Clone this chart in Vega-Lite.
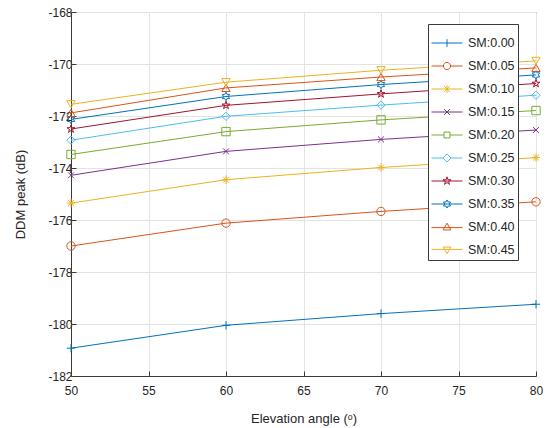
{
  "$schema": "https://vega.github.io/schema/vega-lite/v6.json",
  "width": 465,
  "height": 364,
  "autosize": {"type": "none"},
  "padding": {"left": 71, "top": 12, "right": 18, "bottom": 52},
  "background": "white",
  "config": {
    "font": "Liberation Sans",
    "view": {"stroke": "#3a3a3a", "strokeWidth": 1},
    "axis": {
      "labelFont": "Liberation Sans",
      "titleFont": "Liberation Sans",
      "labelFontSize": 12,
      "titleFontSize": 13,
      "titleFontWeight": "normal",
      "labelColor": "#262626",
      "titleColor": "#262626",
      "domainColor": "#3a3a3a",
      "tickColor": "#3a3a3a",
      "gridColor": "#e3e3e3",
      "gridWidth": 1,
      "tickSize": -5
    }
  },
  "data": {
    "values": [
      {"angle": 50, "dB": -180.93, "series": "SM:0.00", "marker": "+"},
      {"angle": 60, "dB": -180.05, "series": "SM:0.00", "marker": "+"},
      {"angle": 70, "dB": -179.6, "series": "SM:0.00", "marker": "+"},
      {"angle": 80, "dB": -179.24, "series": "SM:0.00", "marker": "+"},
      {"angle": 50, "dB": -177.0, "series": "SM:0.05", "marker": "o"},
      {"angle": 60, "dB": -176.12, "series": "SM:0.05", "marker": "o"},
      {"angle": 70, "dB": -175.67, "series": "SM:0.05", "marker": "o"},
      {"angle": 80, "dB": -175.3, "series": "SM:0.05", "marker": "o"},
      {"angle": 50, "dB": -175.35, "series": "SM:0.10", "marker": "*"},
      {"angle": 60, "dB": -174.45, "series": "SM:0.10", "marker": "*"},
      {"angle": 70, "dB": -173.98, "series": "SM:0.10", "marker": "*"},
      {"angle": 80, "dB": -173.6, "series": "SM:0.10", "marker": "*"},
      {"angle": 50, "dB": -174.28, "series": "SM:0.15", "marker": "x"},
      {"angle": 60, "dB": -173.36, "series": "SM:0.15", "marker": "x"},
      {"angle": 70, "dB": -172.9, "series": "SM:0.15", "marker": "x"},
      {"angle": 80, "dB": -172.54, "series": "SM:0.15", "marker": "x"},
      {"angle": 50, "dB": -173.48, "series": "SM:0.20", "marker": "s"},
      {"angle": 60, "dB": -172.6, "series": "SM:0.20", "marker": "s"},
      {"angle": 70, "dB": -172.15, "series": "SM:0.20", "marker": "s"},
      {"angle": 80, "dB": -171.79, "series": "SM:0.20", "marker": "s"},
      {"angle": 50, "dB": -172.93, "series": "SM:0.25", "marker": "d"},
      {"angle": 60, "dB": -172.01, "series": "SM:0.25", "marker": "d"},
      {"angle": 70, "dB": -171.58, "series": "SM:0.25", "marker": "d"},
      {"angle": 80, "dB": -171.2, "series": "SM:0.25", "marker": "d"},
      {"angle": 50, "dB": -172.5, "series": "SM:0.30", "marker": "p"},
      {"angle": 60, "dB": -171.59, "series": "SM:0.30", "marker": "p"},
      {"angle": 70, "dB": -171.15, "series": "SM:0.30", "marker": "p"},
      {"angle": 80, "dB": -170.75, "series": "SM:0.30", "marker": "p"},
      {"angle": 50, "dB": -172.13, "series": "SM:0.35", "marker": "h"},
      {"angle": 60, "dB": -171.25, "series": "SM:0.35", "marker": "h"},
      {"angle": 70, "dB": -170.79, "series": "SM:0.35", "marker": "h"},
      {"angle": 80, "dB": -170.42, "series": "SM:0.35", "marker": "h"},
      {"angle": 50, "dB": -171.88, "series": "SM:0.40", "marker": "^"},
      {"angle": 60, "dB": -170.92, "series": "SM:0.40", "marker": "^"},
      {"angle": 70, "dB": -170.5, "series": "SM:0.40", "marker": "^"},
      {"angle": 80, "dB": -170.15, "series": "SM:0.40", "marker": "^"},
      {"angle": 50, "dB": -171.55, "series": "SM:0.45", "marker": "v"},
      {"angle": 60, "dB": -170.7, "series": "SM:0.45", "marker": "v"},
      {"angle": 70, "dB": -170.24, "series": "SM:0.45", "marker": "v"},
      {"angle": 80, "dB": -169.88, "series": "SM:0.45", "marker": "v"}
    ]
  },
  "encoding": {
    "x": {
      "field": "angle",
      "type": "quantitative",
      "scale": {"domain": [50, 80], "nice": false, "zero": false},
      "axis": {
        "values": [50, 55, 60, 65, 70, 75, 80],
        "title": "Elevation angle (ᵒ)",
        "labelPadding": 14,
        "titlePadding": 16,
        "labelFlush": false
      }
    },
    "y": {
      "field": "dB",
      "type": "quantitative",
      "scale": {"domain": [-182, -168], "nice": false, "zero": false},
      "axis": {
        "values": [-182, -180, -178, -176, -174, -172, -170, -168],
        "title": "DDM peak (dB)",
        "labelExpr": "'-' + abs(datum.value)",
        "labelPadding": 4,
        "titlePadding": 20
      }
    },
    "color": {
      "field": "series",
      "type": "nominal",
      "scale": {
        "domain": ["SM:0.00", "SM:0.05", "SM:0.10", "SM:0.15", "SM:0.20", "SM:0.25", "SM:0.30", "SM:0.35", "SM:0.40", "SM:0.45"],
        "range": ["#0072BD", "#D95319", "#EDB120", "#7E2F8E", "#77AC30", "#4DBEEE", "#A2142F", "#0072BD", "#D95319", "#EDB120"]
      },
      "legend": {
        "title": null,
        "orient": "none",
        "legendX": 357,
        "legendY": 12,
        "padding": 3,
        "strokeColor": "#3a3a3a",
        "fillColor": "white",
        "labelFont": "Liberation Sans",
        "labelFontSize": 12.5,
        "labelFontWeight": "normal",
        "labelColor": "#262626",
        "symbolType": "stroke",
        "symbolSize": 100,
        "symbolOffset": 0,
        "labelOffset": 5,
        "rowPadding": 0,
        "symbolStrokeWidth": 1,
        "encode": {
          "symbols": {
            "update": {
              "size": {"value": 961},
              "fill": {"value": "transparent"},
              "shape": {"signal": "{'SM:0.00':'M-1,0H1M0,-0.25V0.25','SM:0.05':'M-1,0H-0.23A0.23,0.23,0,1,1,0.23,0H1M0.23,0A0.23,0.23,0,1,1,-0.23,0','SM:0.10':'M-1,0H1M0,-0.25V0.25M-0.18,-0.18L0.18,0.18M-0.18,0.18L0.18,-0.18','SM:0.15':'M-1,0H1M-0.18,-0.18L0.18,0.18M-0.18,0.18L0.18,-0.18','SM:0.20':'M-1,0H-0.19M0.19,0H1M-0.19,-0.19H0.19V0.19H-0.19Z','SM:0.25':'M-1,0H-0.26M0.26,0H1M0,-0.26L0.26,0L0,0.26L-0.26,0Z','SM:0.30':'M-1,0H1M0,-0.27L0.06,-0.08L0.26,-0.08L0.1,0.03L0.16,0.22L0,0.1L-0.16,0.22L-0.1,0.03L-0.26,-0.08L-0.06,-0.08Z','SM:0.35':'M-1,0H1M0,-0.26L0.075,-0.13L0.225,-0.13L0.15,0L0.225,0.13L0.075,0.13L0,0.26L-0.075,0.13L-0.225,0.13L-0.15,0L-0.225,-0.13L-0.075,-0.13Z','SM:0.40':'M-1,0.04H1M0,-0.25L0.25,0.19L-0.25,0.19Z','SM:0.45':'M-1,-0.04H1M0,0.25L0.25,-0.19L-0.25,-0.19Z'}[datum.value]"}
            }
          }
        }
      }
    }
  },
  "layer": [
    {
      "mark": {"type": "line", "strokeWidth": 1}
    },
    {
      "mark": {"type": "point", "filled": false, "size": 70, "strokeWidth": 1, "opacity": 1},
      "encoding": {
        "shape": {
          "field": "marker",
          "type": "nominal",
          "scale": {
            "domain": ["+", "o", "*", "x", "s", "d", "p", "h", "^", "v"],
            "range": [
              "M-1,0H1M0,-1V1",
              "circle",
              "M-1,0H1M0,-1V1M-0.7,-0.7L0.7,0.7M-0.7,0.7L0.7,-0.7",
              "M-0.7,-0.7L0.7,0.7M-0.7,0.7L0.7,-0.7",
              "square",
              "diamond",
              "M0,-1L0.225,-0.309L0.951,-0.309L0.363,0.118L0.588,0.809L0,0.382L-0.588,0.809L-0.363,0.118L-0.951,-0.309L-0.225,-0.309Z",
              "M0,-1L0.289,-0.5L0.866,-0.5L0.577,0L0.866,0.5L0.289,0.5L0,1L-0.289,0.5L-0.866,0.5L-0.577,0L-0.866,-0.5L-0.289,-0.5Z",
              "triangle-up",
              "triangle-down"
            ]
          },
          "legend": null
        }
      }
    }
  ]
}
